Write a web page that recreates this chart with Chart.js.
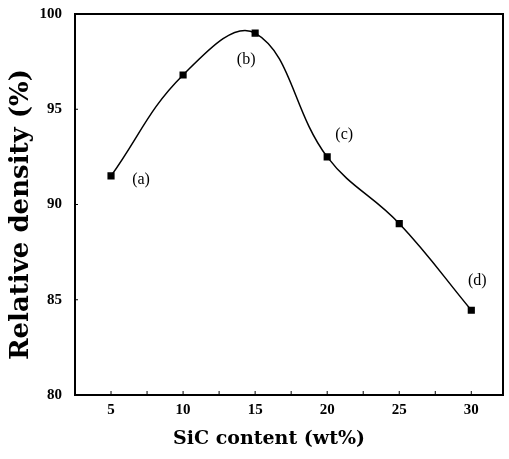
<!DOCTYPE html>
<html>
<head>
<meta charset="utf-8">
<script src="https://cdn.jsdelivr.net/npm/chart.js@4"></script>
<style>
  html, body { margin: 0; padding: 0; background: #fff; }
  #wrap { width: 509px; height: 459px; }
</style>
</head>
<body>
<div id="wrap"><canvas id="densityChart" width="509" height="459"></canvas></div>
<script>
// SiC content vs relative density
const sicContent = [5, 10, 15, 20, 25, 30];
const relDensity = [91.5, 96.8, 99.0, 92.5, 89.0, 84.45];
const pointLabels = ['(a)', null, '(b)', '(c)', null, '(d)'];
const xTicks = [5, 10, 15, 20, 25, 30];
const yTicks = [80, 85, 90, 95, 100];
const xTitle = 'SiC content (wt%)';
const yTitle = 'Relative density (%)';

const serif = "'Liberation Serif', 'DejaVu Serif', serif";
const wideSerif = "'DejaVu Serif', serif";

// frame, inner ticks, axis titles and point labels
const framePlugin = {
    id: 'frame',
    afterDatasetsDraw(chart) {
        const { ctx, chartArea: a, scales } = chart;
        ctx.save();
        ctx.strokeStyle = '#000';
        ctx.lineWidth = 2;
        ctx.strokeRect(a.left, a.top, a.right - a.left, a.bottom - a.top);

        // small inner ticks on the x axis (major + half steps)
        ctx.lineWidth = 1;
        for (let v = 5; v <= 30; v += 2.5) {
            const px = scales.x.getPixelForValue(v);
            ctx.beginPath();
            ctx.moveTo(px, a.bottom);
            ctx.lineTo(px, a.bottom - 4);
            ctx.stroke();
        }
        yTicks.forEach(v => {
            const py = scales.y.getPixelForValue(v);
            ctx.beginPath();
            ctx.moveTo(a.left, py);
            ctx.lineTo(a.left + 3, py);
            ctx.stroke();
        });

        // axis titles, placed a bit off-centre like the original
        ctx.fillStyle = '#000';
        ctx.textAlign = 'center';
        ctx.textBaseline = 'middle';
        ctx.font = 'bold 19px ' + wideSerif;
        ctx.fillText(xTitle, (a.left + a.right) / 2 - 20, a.bottom + 44);

        ctx.save();
        ctx.translate(a.left - 54, (a.top + a.bottom) / 2 + 10);
        ctx.rotate(-Math.PI / 2);
        ctx.font = 'bold 26px ' + wideSerif;
        ctx.fillText(yTitle, 0, 0);
        ctx.restore();

        // (a)..(d) labels next to their points
        const offsets = [[30, 4], null, [-9, 27], [17, -22], null, [6, -29]];
        ctx.font = '16px ' + serif;
        pointLabels.forEach((lbl, i) => {
            if (!lbl) return;
            const px = scales.x.getPixelForValue(sicContent[i]);
            const py = scales.y.getPixelForValue(relDensity[i]);
            ctx.fillText(lbl, px + offsets[i][0], py + offsets[i][1]);
        });
        ctx.restore();
    }
};

new Chart(document.getElementById('densityChart'), {
    type: 'line',
    data: {
        datasets: [{
            data: sicContent.map((x, i) => ({ x, y: relDensity[i] })),
            borderColor: '#000',
            borderWidth: 1.5,
            tension: 0.4,
            pointStyle: 'rect',
            pointRadius: 4,
            pointBackgroundColor: '#000',
            pointBorderColor: '#000',
            fill: false
        }]
    },
    options: {
        responsive: false,
        animation: false,
        layout: { padding: { top: 14, right: 6, left: 0, bottom: 0 } },
        plugins: {
            legend: { display: false },
            tooltip: { enabled: false }
        },
        scales: {
            x: {
                type: 'linear',
                min: 2.5,
                max: 32.2,
                afterBuildTicks: scale => { scale.ticks = xTicks.map(v => ({ value: v })); },
                afterFit: scale => {
                    scale.height = 64;
                    scale.paddingLeft = 0;
                    scale.paddingRight = 0;
                },
                grid: { display: false, drawTicks: false, tickLength: 0 },
                border: { display: false },
                ticks: {
                    color: '#000',
                    padding: 6,
                    maxRotation: 0,
                    font: { family: serif, size: 15, weight: 'bold' }
                },
                title: { display: false }
            },
            y: {
                min: 80,
                max: 100,
                afterBuildTicks: scale => { scale.ticks = yTicks.map(v => ({ value: v })); },
                afterFit: scale => {
                    scale.width = 75;
                    scale.paddingTop = 0;
                    scale.paddingBottom = 0;
                },
                grid: { display: false, drawTicks: false, tickLength: 0 },
                border: { display: false },
                ticks: {
                    color: '#000',
                    padding: 13,
                    font: { family: serif, size: 15, weight: 'bold' }
                },
                title: { display: false }
            }
        }
    },
    plugins: [framePlugin]
});
</script>
</body>
</html>
